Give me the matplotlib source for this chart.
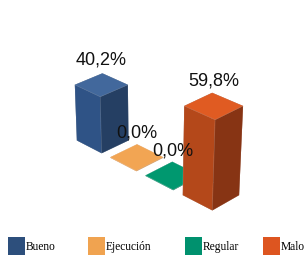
import matplotlib
matplotlib.use("Agg")
import matplotlib.pyplot as plt
from matplotlib.patches import Patch
from mpl_toolkits.mplot3d import proj3d
import numpy as np

categories = ["Bueno", "Ejecución", "Regular", "Malo"]
values = [40.2, 0.0, 0.0, 59.8]
labels = ["40,2%", "0,0%", "0,0%", "59,8%"]
top_colors = ["#42689c", "#f2a553", "#00986f", "#e05b22"]
front_colors = ["#2f5386", "#e8994a", "#008a64", "#b4481a"]
side_colors = ["#253f63", "#c57f3a", "#006e50", "#873414"]
legend_colors = ["#2d4f7c", "#f0a350", "#00916e", "#dd5520"]
legend_x = [8, 88, 185, 263]

fig = plt.figure(figsize=(3.04, 2.59), dpi=100)
ax = fig.add_axes([-0.015, 0.032, 1.0, 0.98], projection="3d")

x = np.arange(len(values), dtype=float)
y = np.zeros(len(values))
w = 0.75
h = np.array(values) + 0.3  # flat bars still show a thin plate

# face order in bar3d: bottom, top, -y, +y, -x, +x
face_cols = []
for t, f, s in zip(top_colors, front_colors, side_colors):
    face_cols += [s, t, f, s, s, s]

ax.bar3d(x, y, np.zeros(len(values)), w, w, h, color=face_cols,
         shade=False, edgecolor=(1, 1, 1, 0.18), linewidth=0.4)

ax.set_xlim(-0.3, 3.8)
ax.set_ylim(-1.5, 2.3)
ax.set_zlim(0, 62)
ax.set_box_aspect((4.1, 3.8, 1.95), zoom=1.17)
ax.view_init(elev=28, azim=-45)
ax.set_proj_type("persp", focal_length=0.8)
ax.set_axis_off()

# value labels placed above the top face centre
M = ax.get_proj()
for xi, v, lab in zip(x, values, labels):
    px, py, _ = proj3d.proj_transform(xi + w / 2, w / 2, v, M)
    ax.annotate(lab, (px, py), xycoords="data", xytext=(0, 18),
                textcoords="offset points", ha="center", va="center",
                fontsize=13, family="Liberation Sans", color="#111111")

for name, c, lx in zip(categories, legend_colors, legend_x):
    fig.legend([Patch(facecolor=c, edgecolor="none")], [name], loc="lower left",
               frameon=False, bbox_to_anchor=(lx / 304, 0.015),
               prop={"family": "Liberation Serif", "size": 8.3},
               handlelength=1.5, handleheight=2.0, handletextpad=0.0,
               borderpad=0.0, borderaxespad=0.0)

fig.savefig("out.png", dpi=100)
